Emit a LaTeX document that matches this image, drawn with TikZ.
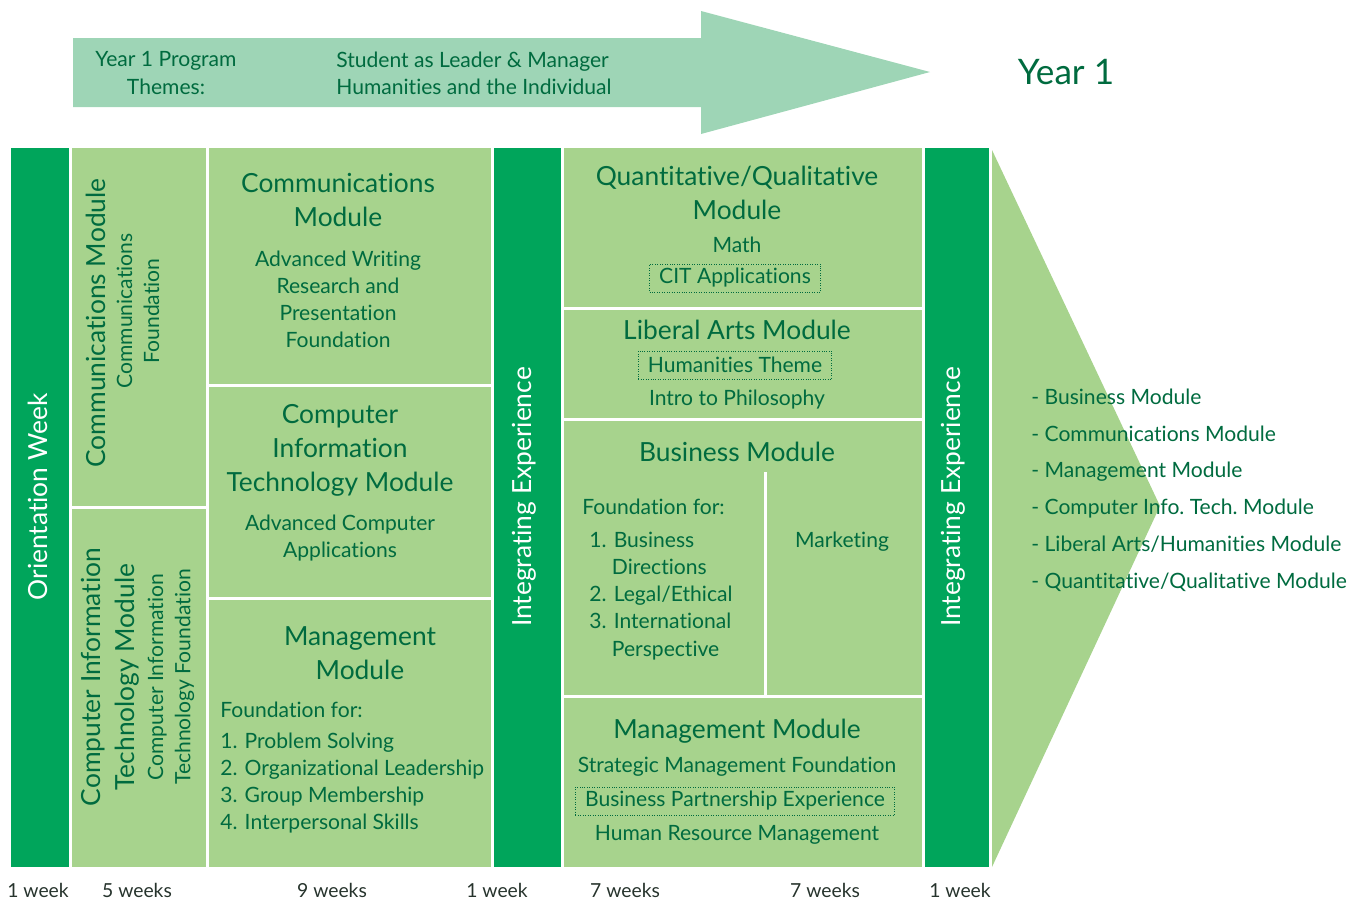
\documentclass[tikz,border=0pt]{standalone}
\usepackage{fontspec}
\setmainfont{Lato}[Ligatures=NoCommon]
\usepackage{tikz}
\usetikzlibrary{calc}
\definecolor{deep}{HTML}{00A55B}
\definecolor{leaf}{HTML}{A7D38D}
\definecolor{mint}{HTML}{9ED5B6}
\definecolor{ink}{HTML}{006B3F}
\definecolor{dusk}{HTML}{26332C}
\tikzset{
  bar/.style={fill=deep},
  cell/.style={fill=leaf},
  gap/.style={draw=white, line width=1.7pt},
  head/.style={text=ink, font=\fontsize{15}{19.3}\selectfont, align=center, inner sep=0pt},
  body/.style={text=ink, font=\fontsize{12}{15.4}\selectfont, align=center, inner sep=0pt},
  listing/.style={body, align=left},
  side/.style={text=white, font=\fontsize{15}{19}\selectfont, rotate=90, inner sep=0pt},
  tag/.style={body, draw=ink, densely dotted, line width=0.4pt, inner xsep=5.5pt, minimum height=16pt},
  wk/.style={text=dusk, font=\fontsize{11}{13}\selectfont, inner sep=0pt},
}

\begin{document}
\begin{tikzpicture}[x=0.02cm,y=-0.02cm]
  \useasboundingbox (0,0) rectangle (1351,900);

  % top theme arrow
  \fill[mint] (73,38) -- (701,38) -- (701,11) -- (930,72) -- (701,134)
    -- (701,107) -- (73,107) -- cycle;
  \node[body] (themes) at (166,73) {Year 1 Program\\Themes:};
  \node[body, align=left, anchor=west] (themelist) at (336,73)
    {Student as Leader \& Manager\\Humanities and the Individual};
  \node[text=ink, font=\fontsize{20}{24}\selectfont, inner sep=0pt] (year) at (1066,72) {Year 1};

  % columns
  \fill[bar] (11,148) rectangle (69,867);
  \fill[cell] (72,148) rectangle (206,506);
  \fill[cell] (72,509) rectangle (206,867);
  \fill[cell] (209,148) rectangle (491,384);
  \fill[cell] (209,387) rectangle (491,597);
  \fill[cell] (209,600) rectangle (491,867);
  \fill[bar] (494,148) rectangle (561,867);
  \fill[cell] (564,148) rectangle (922,307);
  \fill[cell] (564,310) rectangle (922,418);
  \fill[cell] (564,421) rectangle (922,695);
  \fill[cell] (564,698) rectangle (922,867);
  \fill[bar] (925,148) rectangle (989,867);
  \fill[leaf] (992,150) -- (1160,506) -- (992,867) -- cycle;
  \draw[gap] (765,472) -- (765,695);

  % orientation
  \node[side] (orient) at (38,497) {Orientation Week};

  % foundation column
  \node[head, rotate=90] (commtitle) at (96,323) {Communications Module};
  \node[body, rotate=90] (commsub) at (138,311) {Communications\\Foundation};
  \node[head, rotate=90] (cittitle) at (110,677) {Computer Information\\Technology Module};
  \node[body, rotate=90] (citsub) at (171,677) {Computer Information\\Technology Foundation};

  % middle column
  \node[head] (commmod) at (338,200) {Communications\\Module};
  \node[body] (commtext) at (338,299) {Advanced Writing\\Research and\\Presentation\\Foundation};
  \node[head] (citmod) at (340,450) {Computer\\Information\\Technology Module};
  \node[body] (cittext) at (340,538) {Advanced Computer\\Applications};
  \node[head] (mgmtmod) at (360,653) {Management\\Module};
  \node[listing, anchor=west] (mgmtfor) at (220,710) {Foundation for:};
  \node[listing, anchor=west] (mgmtlist) at (220,783)
    {1. Problem Solving\\2. Organizational Leadership\\3. Group Membership\\4. Interpersonal Skills};

  \node[side] (integA) at (524,497) {Integrating Experience};

  % second term column
  \node[head] (quant) at (737,193) {Quantitative/Qualitative\\Module};
  \node[body] (math) at (737,245) {Math};
  \node[tag] (citapp) at (735,278) {CIT Applications};
  \node[head] (libarts) at (737,330) {Liberal Arts Module};
  \node[tag] (human) at (735,365) {Humanities Theme};
  \node[body] (philo) at (737,400) {Intro to Philosophy};
  \node[head] (busmod) at (737,452) {Business Module};
  \node[listing, anchor=west] (busfor) at (582,507) {Foundation for:};
  \node[listing, anchor=west] (buslist) at (589,596)
    {1. Business\\\hphantom{1.\ }Directions\\2. Legal/Ethical\\3. International\\\hphantom{3.\ }Perspective};
  \node[body] (market) at (842,542) {Marketing};
  \node[head] (mgmt2) at (737,731) {Management Module};
  \node[body] (strat) at (737,767) {Strategic Management Foundation};
  \node[tag] (partner) at (735,801) {Business Partnership Experience};
  \node[body] (hrm) at (737,835) {Human Resource Management};

  \node[side] (integB) at (953,497) {Integrating Experience};

  % outcomes
  \node[listing, anchor=west, font=\fontsize{12}{20.9}\selectfont] (outcomes) at (1031,490)
    {- Business Module\\- Communications Module\\- Management Module\\- Computer Info.\ Tech.\ Module\\- Liberal Arts/Humanities Module\\- Quantitative/Qualitative Module};

  % durations
  \node[wk] (w1) at (38,890) {1 week};
  \node[wk] (w2) at (137,890) {5 weeks};
  \node[wk] (w3) at (332,890) {9 weeks};
  \node[wk] (w4) at (497,890) {1 week};
  \node[wk] (w5) at (625,890) {7 weeks};
  \node[wk] (w6) at (825,890) {7 weeks};
  \node[wk] (w7) at (960,890) {1 week};
\end{tikzpicture}
\end{document}
